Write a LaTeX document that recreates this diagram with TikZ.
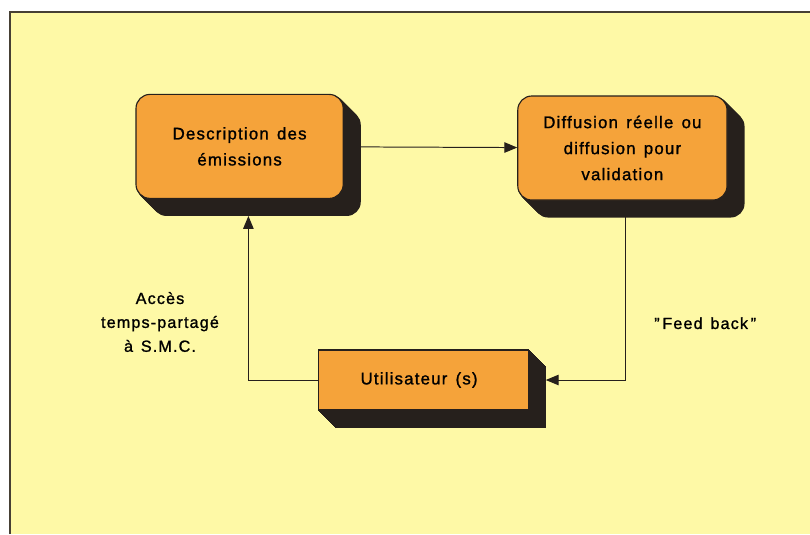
\documentclass[tikz,border=0pt]{standalone}
\usepackage{fontspec}
\setmainfont{Liberation Sans}[LetterSpace=7,WordSpace=1.4,FakeBold=1.2]
\usepackage{tikz}
\definecolor{paper}{RGB}{254,249,166}
\definecolor{boxfill}{RGB}{245,163,58}
\definecolor{ink}{RGB}{38,32,28}
\definecolor{rule}{RGB}{70,64,52}
\usetikzlibrary{arrows.meta, backgrounds, calc}

\begin{document}
\begin{tikzpicture}[
    stage/.style={draw=ink, line width=0.8pt, fill=boxfill, rounded corners=0.35cm,
                  minimum width=#1, minimum height=2.6cm, align=center,
                  font=\fontsize{12}{18.5}\selectfont},
    link/.style={-{Triangle[length=0.32cm, width=0.26cm]}, line width=0.7pt, draw=ink},
    remark/.style={align=center, font=\fontsize{11.5}{17}\selectfont}
]
    \useasboundingbox (0,0) rectangle (20.25,-13.35);

    \node[stage=5.18cm] (desc) at (5.99,-3.66) {
        Description des\\émissions
    };
    
    \node[stage=5.23cm] (diff) at (15.56,-3.7) {
        Diffusion réelle ou\\diffusion pour\\validation
    };
    
    \node[stage=5.25cm, rounded corners=0pt, minimum height=1.5cm] (user) at (10.58,-9.5) {
        Utilisateur (s)
    };
    
    \node[remark] (access) at (4.0,-8.05) {Accès\\temps-partagé\\à S.M.C.};
    \node[remark] (feedback) at (17.63,-8.08) {\symbol{34}\,Feed back\,\symbol{34}};

    % paper, frame and box shadows
    \begin{scope}[on background layer]
        \fill[paper] (0.25,-0.3) rectangle (20.25,-13.35);
        \draw[rule, line width=1.5pt] (0.25,-13.35) -- (0.25,-0.3) -- (20.25,-0.3);
        \foreach \n/\r in {desc/0.35cm, diff/0.35cm, user/0pt}
            \foreach \k in {1,...,17}
                \fill[ink, rounded corners=\r]
                    ([xshift=\k*0.025cm, yshift=-\k*0.025cm]\n.south west) rectangle
                    ([xshift=\k*0.025cm, yshift=-\k*0.025cm]\n.north east);
    \end{scope}
    
    \draw[link] (desc) -- (diff);
    \draw[link, shorten >=0.425cm] ([xshift=0.08cm]diff.south) |- (user.east);
    \draw[link, shorten >=0.425cm] (user.west) -| ([xshift=0.22cm]desc.south);
\end{tikzpicture}
\end{document}
